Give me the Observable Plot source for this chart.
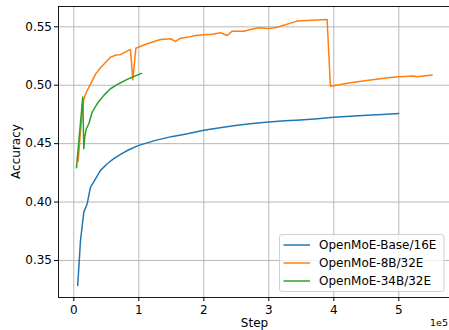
<!DOCTYPE html>
<html>
<head>
<meta charset="utf-8">
<script src="https://cdn.jsdelivr.net/npm/d3@7"></script>
<script src="https://cdn.jsdelivr.net/npm/@observablehq/plot@0.6"></script>
<style>
  html, body { margin: 0; padding: 0; background: #fff; }
  svg { display: block; }
</style>
</head>
<body>
<div id="chart"></div>
<script>
const seriesNames = ["OpenMoE-Base/16E", "OpenMoE-8B/32E", "OpenMoE-34B/32E"];
const seriesColors = ["#1f77b4", "#ff7f0e", "#2ca02c"];

const baseSteps = [6000, 10300, 15400, 20600, 25700, 33400, 41100, 51400, 61500, 71800, 84600, 100000, 125700, 150000, 175000, 200000, 225000, 251400, 275000, 300000, 325000, 348700, 375000, 400000, 425000, 451400, 475000, 500000];
const baseAcc = [0.3286, 0.3671, 0.3914, 0.3986, 0.4128, 0.4199, 0.4271, 0.4328, 0.4371, 0.4408, 0.4448, 0.4485, 0.4528, 0.4560, 0.4585, 0.4614, 0.4637, 0.4657, 0.4672, 0.4685, 0.4695, 0.4703, 0.4713, 0.4725, 0.4735, 0.4743, 0.4750, 0.4757];

const b8Steps = [6700, 11300, 15400, 20000, 25700, 33400, 41100, 48000, 56500, 64200, 71800, 84600, 87200, 90800, 95400, 112900, 133400, 148800, 156500, 164100, 176900, 187200, 200000, 212900, 225700, 236000, 243700, 261600, 271800, 284600, 300000, 312800, 343600, 389700, 394800, 425600, 456400, 487200, 500000, 523100, 527000, 551400];
const b8Acc = [0.4350, 0.4670, 0.4880, 0.4950, 0.5010, 0.5095, 0.5150, 0.5190, 0.5240, 0.5258, 0.5262, 0.5300, 0.5303, 0.5046, 0.5317, 0.5355, 0.5392, 0.5398, 0.5375, 0.5403, 0.5412, 0.5426, 0.5432, 0.5436, 0.5449, 0.5426, 0.5463, 0.5463, 0.5477, 0.5492, 0.5486, 0.5497, 0.5549, 0.5563, 0.4992, 0.5021, 0.5044, 0.5067, 0.5073, 0.5079, 0.5073, 0.5087];

const b34Steps = [4100, 8800, 13800, 15400, 17000, 19500, 23100, 28200, 35900, 46200, 56400, 69200, 82100, 87200, 104100];
const b34Acc = [0.4293, 0.4586, 0.4899, 0.4457, 0.4563, 0.4630, 0.4670, 0.4769, 0.4841, 0.4913, 0.4970, 0.5013, 0.5050, 0.5062, 0.5102];

const xTicks = [0, 100000, 200000, 300000, 400000, 500000];
const yTicks = [0.35, 0.40, 0.45, 0.50, 0.55];
const xLabel = "Step";
const yLabel = "Accuracy";
const offsetText = "1e5";

const allSteps = [baseSteps, b8Steps, b34Steps];
const allAcc = [baseAcc, b8Acc, b34Acc];
const data = [];
allSteps.forEach((steps, i) => steps.forEach((s, j) => data.push({series: seriesNames[i], step: s, acc: allAcc[i][j]})));

const W = 449, H = 330;
const chart = Plot.plot({
  width: W, height: H,
  marginLeft: 58, marginRight: 0, marginTop: 6, marginBottom: 33,
  style: {fontFamily: "DejaVu Sans", fontSize: "12px", background: "#fff", color: "#000", overflow: "visible"},
  x: {domain: [-23538, 578000], label: null},
  y: {domain: [0.3183, 0.5674], label: null},
  color: {domain: seriesNames, range: seriesColors},
  marks: [
    Plot.gridX(xTicks, {stroke: "#b0b0b0", strokeOpacity: 1, strokeWidth: 0.9}),
    Plot.gridY(yTicks, {stroke: "#b0b0b0", strokeOpacity: 1, strokeWidth: 0.9}),
    Plot.line(data, {x: "step", y: "acc", z: "series", stroke: "series", strokeWidth: 1.5, strokeLinejoin: "round"}),
    Plot.frame({stroke: "#000", strokeWidth: 0.9}),
    Plot.axisX(xTicks, {tickSize: 4, tickPadding: 4, tickFormat: d => String(d / 1e5), stroke: "#000", label: null, fontSize: 12}),
    Plot.axisY(yTicks, {tickSize: 4, tickPadding: 2.5, tickFormat: d3.format(".2f"), stroke: "#000", label: null, fontSize: 12})
  ]
});
document.getElementById("chart").appendChild(chart);

const svg = d3.select(chart);
svg.append("text").attr("x", 254.5).attr("y", 327).attr("text-anchor", "middle")
  .attr("font-family", "DejaVu Sans").attr("font-size", 12).attr("fill", "#000").text(xLabel);
svg.append("text").attr("transform", "translate(20,151.5) rotate(-90)").attr("text-anchor", "middle")
  .attr("font-family", "DejaVu Sans").attr("font-size", 12).attr("fill", "#000").text(yLabel);
svg.append("text").attr("x", 448).attr("y", 326).attr("text-anchor", "end")
  .attr("font-family", "DejaVu Sans").attr("font-size", 9.5).attr("fill", "#000").text(offsetText);

// legend (lower right, inside axes)
const lg = svg.append("g");
lg.append("rect").attr("x", 279.5).attr("y", 234.5).attr("width", 164.5).attr("height", 57)
  .attr("rx", 2.5).attr("fill", "#fff").attr("fill-opacity", 0.8).attr("stroke", "#ccc").attr("stroke-width", 0.9);
const rowY = [245, 263, 281];
seriesNames.forEach((name, i) => {
  lg.append("line").attr("x1", 283.5).attr("x2", 310).attr("y1", rowY[i]).attr("y2", rowY[i])
    .attr("stroke", seriesColors[i]).attr("stroke-width", 1.5);
  lg.append("text").attr("x", 319).attr("y", rowY[i] + 4.3).attr("text-anchor", "start")
    .attr("font-family", "DejaVu Sans").attr("font-size", 12).attr("fill", "#000").text(name);
});
</script>
</body>
</html>
